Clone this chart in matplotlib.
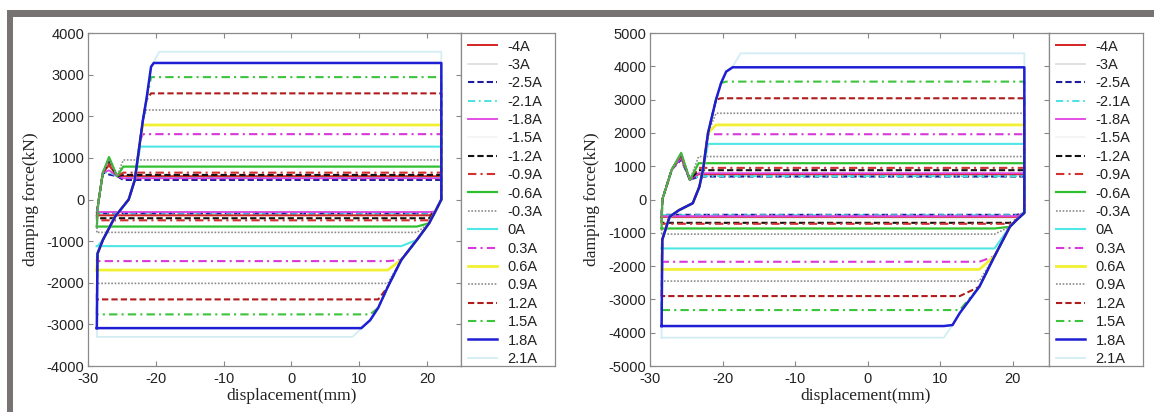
import matplotlib.pyplot as plt
from matplotlib.patches import Rectangle
import numpy as np

plt.rcParams['font.family'] = ['Liberation Sans', 'DejaVu Sans']
plt.rcParams['axes.unicode_minus'] = False

nan = np.nan

# Stromstaerken (Legende)
currents = ['-4A', '-3A', '-2.5A', '-2.1A', '-1.8A', '-1.5A', '-1.2A', '-0.9A', '-0.6A', '-0.3A',
            '0A', '0.3A', '0.6A', '0.9A', '1.2A', '1.5A', '1.8A', '2.1A']

# linkes Diagramm: Kraftniveau oberer / unterer Ast (kN), Ueberschwinger links
up_a = [560, 540, 470, 520, 510, 560, 590, 645, 790, 950,
        1270, 1570, 1790, 2150, 2550, 2940, 3280, 3550]
low_a = [-380, -400, -330, -320, -300, -400, -450, -500, -650, -790,
         -1120, -1480, -1695, -2015, -2400, -2760, -3090, -3300]
hump_a = [820, nan, 600, 650, 700, nan, 900, 850, 1020, 950,
          nan, nan, nan, nan, nan, nan, nan, nan]

# rechtes Diagramm
up_b = [760, 740, 690, 700, 790, 760, 880, 950, 1090, 1290,
        1670, 1960, 2240, 2590, 3040, 3540, 3970, 4390]
low_b = [-520, -550, -460, -470, -500, -600, -700, -730, -870, -1040,
         -1470, -1870, -2100, -2450, -2900, -3320, -3800, -4150]
hump_b = [1300, nan, 1200, 1250, 1250, nan, 1350, 1300, 1400, 1350,
          nan, nan, nan, nan, nan, nan, nan, nan]

rise_x_a = [-28.7, -28.6, -27.8, -26.0, -24.0, -23.1, -22.3, -21.9, -21.4, -20.7, -20.3, -19.5]
rise_f_a = [-3400, -1300, -970, -410, 0, 470, 1430, 1910, 2390, 3190, 3300, 3800]
fall_x_a = [22.1, 22.1, 21.2, 20.3, 18.5, 16.2, 14.2, 12.8, 11.6, 10.3, 9.0]
fall_f_a = [4000, 0, -290, -570, -970, -1450, -2100, -2600, -2900, -3100, -3400]
hump_x_a = [-28.5, -27.8, -26.9, -25.7, -24.8]
hump_f_a = [-100, 650, 0, 560, 0]   # Spitze und Endniveau je Kurve

rise_x_b = [-28.4, -28.3, -27.3, -26.0, -24.1, -23.2, -22.7, -22.0, -20.9, -20.2, -19.5, -18.6, -17.5]
rise_f_b = [-4500, -1200, -520, -320, -110, 380, 880, 2000, 3000, 3500, 3840, 4000, 4600]
fall_x_b = [21.6, 21.6, 20.6, 19.6, 17.5, 15.4, 12.7, 11.7, 10.5]
fall_f_b = [5000, -400, -600, -820, -1700, -2620, -3410, -3770, -4500]
hump_x_b = [-28.3, -27.0, -25.7, -24.5, -23.3]
hump_f_b = [0, 900, 0, 590, 0]

# Linienstile wie in der Legende
colors = ['#d42424', '#dcdcdc', '#1c1c9c', '#3fdede', '#e040e0', '#f4f4f4', '#111111', '#d43030',
          '#2fc02f', '#8c8c8c', '#4fe6e6', '#d838d8', '#f2f032', '#8c8c8c', '#b01c1c', '#3cc43c',
          '#1e1ed4', '#d2eef4']
styles = ['-', '-', (0, (3, 1.5)), (0, (4, 2, 1, 2)), '-', '-', (0, (3, 1.5)), (0, (4, 2, 1, 2)),
          '-', (0, (1, 1)), '-', (0, (4, 2, 1, 2)), '-', (0, (1, 1)), (0, (3, 1.5)), (0, (4, 2, 1, 2)),
          '-', '-']
widths = [1.4, 1.2, 1.5, 1.3, 1.3, 1.2, 1.5, 1.5, 1.6, 1.2, 1.5, 1.5, 2.0, 1.2, 1.5, 1.5, 1.8, 1.3]
zorders = [3, 1, 3, 3, 3, 1, 3, 3, 3, 3, 3, 3, 3, 3, 3, 3, 4, 1]


def loop(up, low, hump, rise_x, rise_f, fall_x, fall_f, hump_x, hump_f):
    if np.isnan(hump):
        xs = list(rise_x)
        fs = list(np.clip(rise_f, low, up))
    else:
        hf = list(hump_f)
        hf[2] = hump
        hf[4] = up
        xs = [rise_x[0]] + list(hump_x)
        fs = [low] + hf
    xs += list(fall_x)
    fs += list(np.clip(fall_f, low, up))
    xs.append(rise_x[0])
    fs.append(low)
    return xs, fs


W, H = 1154, 412
fig = plt.figure(figsize=(W / 100, H / 100), dpi=100)

# grauer Rahmen oben und links
fig.add_artist(Rectangle((7 / W, 1 - 17 / H), 1 - 7 / W, 7 / H, transform=fig.transFigure,
                         color='#777372', lw=0))
fig.add_artist(Rectangle((7 / W, 0), 6 / W, 1 - 10 / H, transform=fig.transFigure,
                         color='#777372', lw=0))

panels = [
    (88, 373, 461, up_a, low_a, hump_a, rise_x_a, rise_f_a, fall_x_a, fall_f_a, hump_x_a, hump_f_a, 4000),
    (650, 399, 1049, up_b, low_b, hump_b, rise_x_b, rise_f_b, fall_x_b, fall_f_b, hump_x_b, hump_f_b, 5000),
]

for (x0, w, lx, up, low, hump, rx, rf, fx, ff, hx, hf, ymax) in panels:
    ax = fig.add_axes([x0 / W, 46 / H, w / W, 333 / H])
    lines = []
    for i in range(len(currents)):
        xs, fs = loop(up[i], low[i], hump[i], rx, rf, fx, ff, hx, hf)
        ln, = ax.plot(xs, fs, color=colors[i], linestyle=styles[i], lw=widths[i],
                      zorder=zorders[i], label=currents[i])
        lines.append(ln)
    ax.set_xlim(-30, 25)
    ax.set_ylim(-ymax, ymax)
    ax.set_xticks([-30, -20, -10, 0, 10, 20])
    ax.set_yticks(np.arange(-ymax, ymax + 1, 1000))
    ax.tick_params(direction='in', top=True, right=True, length=3.5, width=0.8,
                   color='#888888', labelsize=10.5, labelcolor='#222222')
    ax.tick_params(axis='y', pad=2.5)
    ax.tick_params(axis='x', pad=4)
    for s in ax.spines.values():
        s.set_color('#8a8a8a')
        s.set_linewidth(0.9)
    ax.set_xlabel('displacement(mm)', family='Liberation Serif', fontsize=12.5, color='#222222')
    ax.set_ylabel('damping force(kN)', family='Liberation Serif', fontsize=12.5, color='#222222')
    ax.xaxis.set_label_coords((292 if x0 == 88 else 866) / w - x0 / w, -0.066)
    ax.yaxis.set_label_coords(-(x0 - (39 if x0 == 88 else 600)) / w, 0.5)

    # Legendenkasten rechts neben dem Diagramm
    lax = fig.add_axes([lx / W, 46 / H, 94 / W, 333 / H])
    lax.set_xticks([])
    lax.set_yticks([])
    for s in lax.spines.values():
        s.set_color('#8a8a8a')
        s.set_linewidth(0.9)
    lax.legend(lines, currents, loc='upper left', bbox_to_anchor=(0, 1), frameon=False,
               borderaxespad=0, borderpad=0.45, handlelength=2.05, handletextpad=0.7,
               labelspacing=0.3, fontsize=10.5, labelcolor='#222222')

fig.savefig('out.png', dpi=100)
